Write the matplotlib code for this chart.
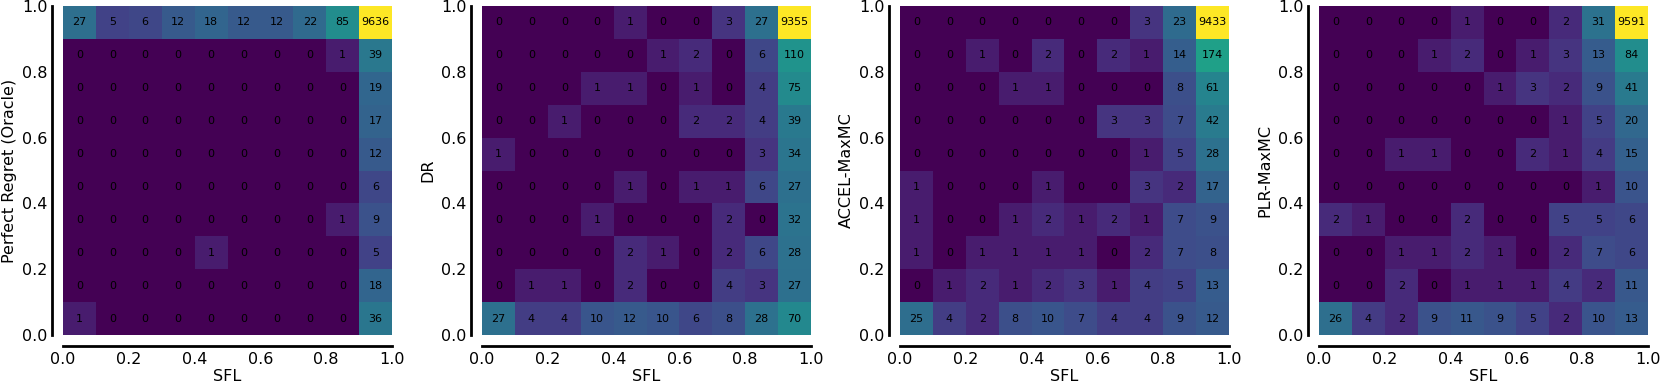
import numpy as np
import matplotlib
matplotlib.use("Agg")
import matplotlib.pyplot as plt
from matplotlib.colors import LogNorm

x_label = "SFL"
y_labels = ["Perfect Regret (Oracle)", "DR", "ACCEL-MaxMC", "PLR-MaxMC"]
tick_values = [0.0, 0.2, 0.4, 0.6, 0.8, 1.0]
tick_labels = ["0.0", "0.2", "0.4", "0.6", "0.8", "1.0"]

# rows listed top (y 0.9-1.0) to bottom (y 0.0-0.1); columns x 0.0 -> 1.0
counts_oracle = [
    [27, 5, 6, 12, 18, 12, 12, 22, 85, 9636],
    [0, 0, 0, 0, 0, 0, 0, 0, 1, 39],
    [0, 0, 0, 0, 0, 0, 0, 0, 0, 19],
    [0, 0, 0, 0, 0, 0, 0, 0, 0, 17],
    [0, 0, 0, 0, 0, 0, 0, 0, 0, 12],
    [0, 0, 0, 0, 0, 0, 0, 0, 0, 6],
    [0, 0, 0, 0, 0, 0, 0, 0, 1, 9],
    [0, 0, 0, 0, 1, 0, 0, 0, 0, 5],
    [0, 0, 0, 0, 0, 0, 0, 0, 0, 18],
    [1, 0, 0, 0, 0, 0, 0, 0, 0, 36],
]
counts_dr = [
    [0, 0, 0, 0, 1, 0, 0, 3, 27, 9355],
    [0, 0, 0, 0, 0, 1, 2, 0, 6, 110],
    [0, 0, 0, 1, 1, 0, 1, 0, 4, 75],
    [0, 0, 1, 0, 0, 0, 2, 2, 4, 39],
    [1, 0, 0, 0, 0, 0, 0, 0, 3, 34],
    [0, 0, 0, 0, 1, 0, 1, 1, 6, 27],
    [0, 0, 0, 1, 0, 0, 0, 2, 0, 32],
    [0, 0, 0, 0, 2, 1, 0, 2, 6, 28],
    [0, 1, 1, 0, 2, 0, 0, 4, 3, 27],
    [27, 4, 4, 10, 12, 10, 6, 8, 28, 70],
]
counts_accel = [
    [0, 0, 0, 0, 0, 0, 0, 3, 23, 9433],
    [0, 0, 1, 0, 2, 0, 2, 1, 14, 174],
    [0, 0, 0, 1, 1, 0, 0, 0, 8, 61],
    [0, 0, 0, 0, 0, 0, 3, 3, 7, 42],
    [0, 0, 0, 0, 0, 0, 0, 1, 5, 28],
    [1, 0, 0, 0, 1, 0, 0, 3, 2, 17],
    [1, 0, 0, 1, 2, 1, 2, 1, 7, 9],
    [1, 0, 1, 1, 1, 1, 0, 2, 7, 8],
    [0, 1, 2, 1, 2, 3, 1, 4, 5, 13],
    [25, 4, 2, 8, 10, 7, 4, 4, 9, 12],
]
counts_plr = [
    [0, 0, 0, 0, 1, 0, 0, 2, 31, 9591],
    [0, 0, 0, 1, 2, 0, 1, 3, 13, 84],
    [0, 0, 0, 0, 0, 1, 3, 2, 9, 41],
    [0, 0, 0, 0, 0, 0, 0, 1, 5, 20],
    [0, 0, 1, 1, 0, 0, 2, 1, 4, 15],
    [0, 0, 0, 0, 0, 0, 0, 0, 1, 10],
    [2, 1, 0, 0, 2, 0, 0, 5, 5, 6],
    [0, 0, 1, 1, 2, 1, 0, 2, 7, 6],
    [0, 0, 2, 0, 1, 1, 1, 4, 2, 11],
    [26, 4, 2, 9, 11, 9, 5, 2, 10, 13],
]
all_counts = [counts_oracle, counts_dr, counts_accel, counts_plr]

W, H = 1661, 388
fig = plt.figure(figsize=(W / 100, H / 100), dpi=100)

lefts_px = [63, 482, 900, 1319]
size_px = 329
bottom_px = 53

edges = np.linspace(0, 1, 11)
centers = (edges[:-1] + edges[1:]) / 2

for left, counts, ylab in zip(lefts_px, all_counts, y_labels):
    ax = fig.add_axes([left / W, bottom_px / H, size_px / W, size_px / H])
    arr = np.array(counts, dtype=float)[::-1]  # row 0 = bottom
    norm = LogNorm(vmin=1, vmax=arr.max() + 1)
    ax.pcolormesh(edges, edges, arr + 1, cmap="viridis", norm=norm,
                  shading="flat", edgecolors="none")
    for i, yc in enumerate(centers):
        for j, xc in enumerate(centers):
            ax.text(xc, yc, f"{int(arr[i, j])}", ha="center", va="center",
                    fontsize=8, color="black")
    ax.set_xlim(0, 1)
    ax.set_ylim(0, 1)
    ax.set_xticks(tick_values)
    ax.set_xticklabels(tick_labels)
    ax.set_yticks(tick_values)
    ax.set_yticklabels(tick_labels)
    ax.tick_params(length=0, labelsize=11.5, pad=3)
    ax.tick_params(axis="x", pad=4)
    for s in ["top", "right"]:
        ax.spines[s].set_visible(False)
    for s in ["left", "bottom"]:
        ax.spines[s].set_position(("outward", 8))
        ax.spines[s].set_linewidth(2)
    ax.set_xlabel(x_label, fontsize=11.5, labelpad=2)
    ax.set_ylabel(ylab, fontsize=11.5, labelpad=4)

fig.savefig("out.png", dpi=100)
